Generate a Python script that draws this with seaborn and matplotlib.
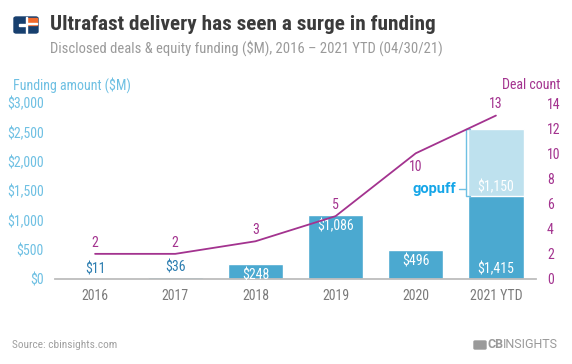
import matplotlib
matplotlib.use('Agg')
import matplotlib.pyplot as plt
import seaborn as sns
import pandas as pd
from matplotlib.patches import FancyBboxPatch, Rectangle

# data
years = ['2016', '2017', '2018', '2019', '2020', '2021 YTD']
funding = [11, 36, 248, 1086, 496, 1415]
gopuff = [0, 0, 0, 0, 0, 1150]
deals = [2, 2, 3, 5, 10, 13]
funding_labels = ['$11', '$36', '$248', '$1,086', '$496', '$1,415']
gopuff_label = '$1,150'

df = pd.DataFrame({'year': years, 'funding': funding, 'gopuff': gopuff, 'deals': deals})
df['total'] = df['funding'] + df['gopuff']
df['pos'] = range(len(df))

sns.set_theme(style='white')
plt.rcParams['font.family'] = ['Roboto Condensed', 'DejaVu Sans']

DARK = '#4BA9D0'
LIGHT = '#BEE1EE'
PURPLE = '#A3338F'
AXBLUE = '#6EC0E3'
GREY = '#7a7a7a'

fig = plt.figure(figsize=(5.72, 3.64), dpi=100)
ax = fig.add_axes([55 / 572, 1 - 279 / 364, (536 - 55) / 572, (279 - 103) / 364])

sns.barplot(data=df, x='year', y='total', color=LIGHT, width=0.69, saturation=1, ax=ax)
sns.barplot(data=df, x='year', y='funding', color=DARK, width=0.69, saturation=1, ax=ax)

ax.set_ylim(0, 3000)
ax.set_xlim(-0.5, 5.5)
ax.set_yticks(range(0, 3001, 500))
ax.set_yticklabels(['$0', '$500', '$1,000', '$1,500', '$2,000', '$2,500', '$3,000'])
ax.set_xlabel('')
ax.set_ylabel('')
for s in ['top', 'right', 'left']:
    ax.spines[s].set_visible(False)
ax.spines['bottom'].set_color('#bdbdbd')
ax.spines['bottom'].set_linewidth(1.3)
ax.tick_params(axis='y', length=0, pad=8, labelsize=10, labelcolor=AXBLUE)
ax.tick_params(axis='x', length=0, pad=7, labelsize=10, labelcolor=GREY)

# bar value labels
for i, (v, lab) in enumerate(zip(funding, funding_labels)):
    if v < 100:
        ax.annotate(lab, (i, v), xytext=(0, 6.5), textcoords='offset points',
                    ha='center', va='center', fontsize=10, color='#2C7DB0')
    elif i == len(funding) - 1:
        ax.annotate(lab, (i, 0), xytext=(0, 7), textcoords='offset points',
                    ha='center', va='center', fontsize=10, color='white')
    else:
        ax.annotate(lab, (i, v), xytext=(0, -8), textcoords='offset points',
                    ha='center', va='center', fontsize=10, color='white')
ax.annotate(gopuff_label, (5, funding[5]), xytext=(0, 6), textcoords='offset points',
            ha='center', va='center', fontsize=10, color='white')

# deal count line on right axis
ax2 = ax.twinx()
sns.lineplot(data=df, x='pos', y='deals', color=PURPLE, linewidth=1.3, ax=ax2)
ax2.set_ylim(0, 14)
ax2.set_yticks(range(0, 15, 2))
ax2.set_ylabel('')
ax2.set_xlim(-0.5, 5.5)
for s in ['top', 'right', 'left', 'bottom']:
    ax2.spines[s].set_visible(False)
ax2.tick_params(axis='y', length=0, pad=8, labelsize=10, labelcolor=PURPLE)
for i, d in enumerate(deals):
    off = -10 if d == 10 else 8
    ax2.annotate(str(d), (i, d), xytext=(0, off), textcoords='offset points',
                 ha='center', va='center', fontsize=10, color=PURPLE)

# gopuff bracket
bx = 4.63
top = df['total'].iloc[5]
bot = funding[5]
ax.plot([bx + 0.05, bx, bx, bx + 0.05], [top, top, bot, bot], color=AXBLUE, lw=1, clip_on=False)
ax.plot([bx - 0.09, bx], [1540, 1540], color=AXBLUE, lw=1, clip_on=False)
ax.text(bx - 0.12, 1540, 'gopuff', ha='right', va='center', fontsize=10.5,
        fontweight='bold', color='#16A6E8', family=['Roboto', 'DejaVu Sans'])

# titles and axis captions
fig.text(50 / 572, 1 - 25 / 364, 'Ultrafast delivery has seen a surge in funding',
         fontsize=15.3, fontweight='bold', color='#3b3b3b', va='center')
fig.text(50 / 572, 1 - 48 / 364, 'Disclosed deals & equity funding ($M), 2016 \u2013 2021 YTD (04/30/21)',
         fontsize=10.5, color='#9a9a9a', va='center')
fig.text(13 / 572, 1 - 85 / 364, 'Funding amount ($M)', fontsize=10, color=AXBLUE, va='center')
fig.text(560 / 572, 1 - 85 / 364, 'Deal count', fontsize=10, color=PURPLE, va='center', ha='right')
fig.text(12 / 572, 1 - 345 / 364, 'Source: cbinsights.com', fontsize=8.2, color='#a0a0a0', va='center')

# CB logo top left
W, H = 572, 364
fig.patches.append(FancyBboxPatch((14 / W, 1 - 33 / H), 24 / W, 16 / H,
                                  boxstyle='round,pad=0,rounding_size=0.004',
                                  transform=fig.transFigure, color='#173F6E'))
fig.patches.append(Rectangle((27 / W, 1 - 24.5 / H), 10 / W, 6.5 / H,
                             transform=fig.transFigure, color='#F26A2C'))
fig.patches.append(Rectangle((27 / W, 1 - 24 / H), 10 / W, 1 / H,
                             transform=fig.transFigure, color='white'))
fig.patches.append(Rectangle((26 / W, 1 - 33 / H), 1.2 / W, 16 / H,
                             transform=fig.transFigure, color='white'))
fig.patches.append(Rectangle((19 / W, 1 - 25.5 / H), 7 / W, 1.5 / H,
                             transform=fig.transFigure, color='white'))

# CB Insights footer logo
fig.patches.append(FancyBboxPatch((474 / W, 1 - 349 / H), 12 / W, 8 / H,
                                  boxstyle='round,pad=0,rounding_size=0.002',
                                  transform=fig.transFigure, color='#9a9a9a'))
fig.text(488 / W, 1 - 345 / H, 'CB', fontsize=9, fontweight='bold', color='#9a9a9a', va='center',
         family=['Roboto', 'DejaVu Sans'])
fig.text(503 / W, 1 - 345 / H, 'INSIGHTS', fontsize=9, color='#9a9a9a', va='center',
         family=['Roboto', 'DejaVu Sans'])

fig.savefig('out.png', dpi=100)
